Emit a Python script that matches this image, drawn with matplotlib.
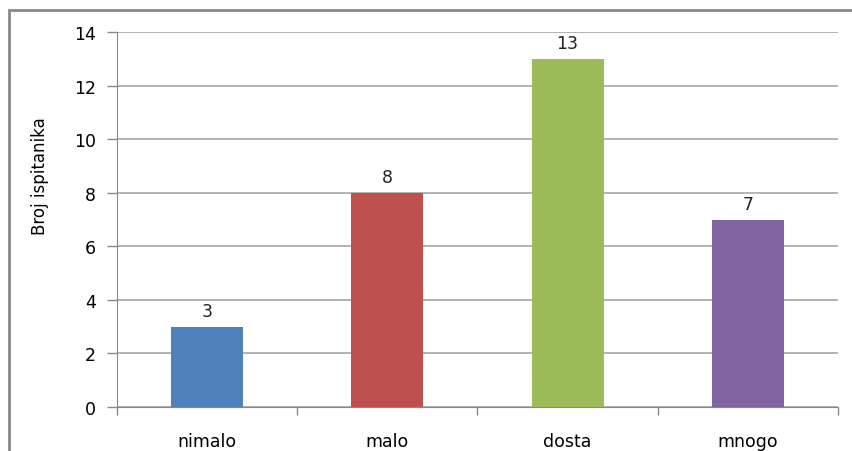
import matplotlib
matplotlib.use("Agg")
import matplotlib.pyplot as plt
from matplotlib.patches import Rectangle

categories = ["nimalo", "malo", "dosta", "mnogo"]
counts = [3, 8, 13, 7]
colors = ["#4F81BD", "#C0504D", "#9BBB59", "#8064A2"]
yticks = [0, 2, 4, 6, 8, 10, 12, 14]

fig = plt.figure(figsize=(8.53, 4.52), dpi=100)
ax = fig.add_axes([117 / 853, 1 - 408 / 452, (838 - 117) / 853, (408 - 33) / 452])

x = list(range(len(categories)))
bars = ax.bar(x, counts, width=0.4, color=colors, zorder=3)
for xi, v in zip(x, counts):
    ax.annotate(str(v), (xi, v), xytext=(0, 5), textcoords="offset points",
                ha="center", va="bottom", fontsize=12.5, color="#222222")

ax.set_xlim(-0.5, len(categories) - 0.5)
ax.set_ylim(0, 14)
ax.set_yticks(yticks)
ax.set_yticklabels([str(t) for t in yticks], fontsize=12.5)
ax.yaxis.grid(True, color="#a6a6a6", linewidth=1.2, zorder=0)
ax.set_axisbelow(True)

# category labels centred, tick marks on the boundaries
ax.set_xticks(x)
ax.set_xticklabels(categories, fontsize=12.5)
ax.tick_params(axis="x", length=0, pad=18)
ax.set_xticks([i - 0.5 for i in range(len(categories) + 1)], minor=True)
ax.tick_params(axis="x", which="minor", length=6, color="#888888", width=1)
ax.tick_params(axis="y", length=7, color="#888888", width=1, pad=8)

for side in ["top", "right"]:
    ax.spines[side].set_visible(False)
ax.spines["left"].set_color("#888888")
ax.spines["bottom"].set_color("#888888")

ax.set_ylabel("Broj ispitanika", fontsize=12)
ax.yaxis.set_label_coords(-0.094, 0.619)

# outer chart frame (cut off on the right and bottom)
fig.patches.append(Rectangle((9 / 853, -0.1), 1.2, 1 - 11 / 452 + 0.1,
                             transform=fig.transFigure, fill=False,
                             edgecolor="#888888", linewidth=2))

fig.savefig("out.png", dpi=100)
